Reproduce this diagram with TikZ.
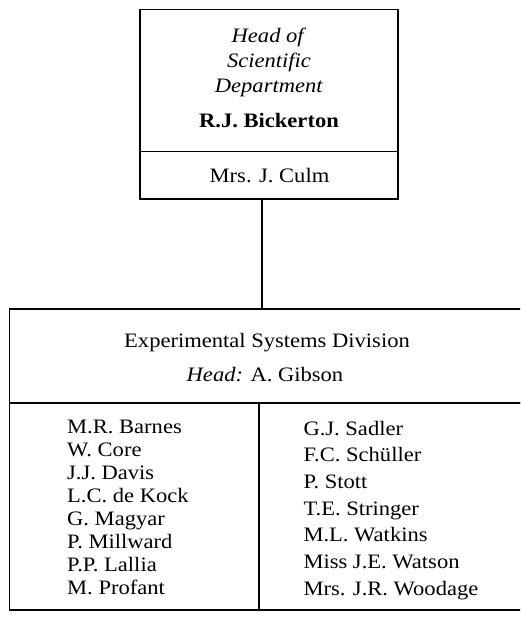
\documentclass[tikz,border=0pt]{standalone}
\usepackage{fontspec}
\setmainfont{Liberation Serif}[FakeStretch=1.1]
\begin{document}
\begin{tikzpicture}[x=1pt,y=-1pt,
  frame/.style={draw, line width=1.6pt, inner sep=0pt, outer sep=0pt},
  txt/.style={font=\fontsize{20.5}{23}\selectfont, inner sep=0pt, anchor=base},
  member/.style={font=\fontsize{20.5}{23}\selectfont, inner sep=0pt, anchor=base west}]
\useasboundingbox (0,0) rectangle (520,617);
\clip (0,0) rectangle (520,617);

% Head of department and secretary
\node[frame, minimum width=258pt, minimum height=142pt, anchor=north west] (head) at (140,9.5) {};
\node[frame, minimum width=258pt, minimum height=47.5pt, anchor=north west] (sec) at (head.south west) {};

% Division: header and two staff columns
\node[frame, minimum width=520.5pt, minimum height=94pt, anchor=north west] (div) at (9.5,309) {};
\node[frame, minimum width=249.5pt, minimum height=207pt, anchor=north west] (colL) at (div.south west) {};
\node[frame, minimum width=271pt, minimum height=207pt, anchor=north west] (colR) at (colL.north east) {};

% Link between the head box and the division
\coordinate (link) at (262,0);
\draw[line width=1.6pt] (sec.south -| link) -- (div.north -| link);

% Head box texts
\node[txt] (t1) at (269,42.5) {\textit{Head of}};
\node[txt] (t2) at (269,68) {\textit{Scientific}};
\node[txt] (t3) at (269,92.5) {\textit{Department}};
\node[txt] (t4) at (269,128) {\textbf{R.J. Bickerton}};
\node[txt] (t5) at (269.5,182.5) {Mrs. J. Culm};

% Division header texts
\node[txt] (d1) at (267,347) {Experimental Systems Division};
\node[txt] (d2) at (265,381.5) {\textit{Head:} A. Gibson};

% Staff lists
\foreach \who [count=\i] in {M.R. Barnes, W. Core, J.J. Davis, L.C. de Kock,
    G. Magyar, P. Millward, P.P. Lallia, M. Profant}
  \node[member] (l\i) at (67,{433+23.1*(\i-1)}) {\who};
\foreach \who [count=\i] in {G.J. Sadler, F.C. Schüller, P. Stott, T.E. Stringer,
    M.L. Watkins, Miss J.E. Watson, Mrs. J.R. Woodage}
  \node[member] (r\i) at (303.3,{435+26.7*(\i-1)}) {\who};
\end{tikzpicture}
\end{document}
